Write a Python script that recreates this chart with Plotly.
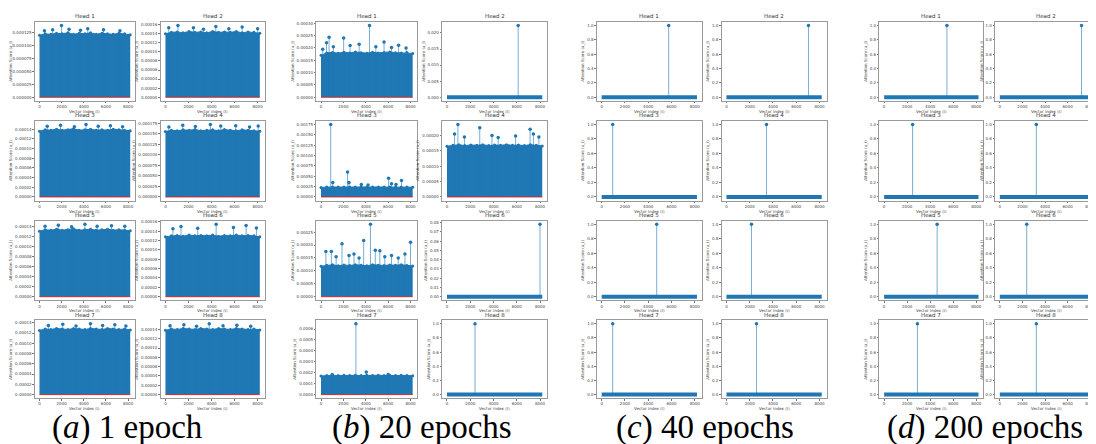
import plotly.graph_objects as go

W, H = 1096, 444
N_VEC = 8192
XTICKS = [0, 2000, 4000, 6000, 8000]
IDX = [0, 512, 1024, 1536, 2048, 2560, 3072, 3584, 4096, 4608, 5120, 5632, 6144, 6656, 7168, 7680, 8191]

CAPTIONS = ["(<i>a</i>) 1 epoch", "(<i>b</i>) 20 epochs", "(<i>c</i>) 40 epochs", "(<i>d</i>) 200 epochs"]
HEADS = ["Head 1", "Head 2", "Head 3", "Head 4", "Head 5", "Head 6", "Head 7", "Head 8"]
XLABEL = "Vector index (i)"
YLABEL = "Attention Score (a_i)"

# ---------------- (a) 1 epoch : dense bands ----------------
a1_top = [1.20e-4, 1.23e-4, 1.22e-4, 1.24e-4, 1.23e-4, 1.25e-4, 1.22e-4, 1.24e-4, 1.23e-4, 1.25e-4, 1.22e-4, 1.24e-4, 1.23e-4, 1.22e-4, 1.24e-4, 1.23e-4, 1.21e-4]
a1_px = [444, 1185, 1985, 2667, 3700, 4356, 5780, 7260]
a1_py = [1.29e-4, 1.31e-4, 1.39e-4, 1.32e-4, 1.30e-4, 1.33e-4, 1.31e-4, 1.29e-4]

a2_top = [1.40e-4, 1.43e-4, 1.44e-4, 1.42e-4, 1.45e-4, 1.43e-4, 1.44e-4, 1.42e-4, 1.45e-4, 1.43e-4, 1.44e-4, 1.43e-4, 1.45e-4, 1.42e-4, 1.44e-4, 1.43e-4, 1.41e-4]
a2_px = [286, 1086, 2428, 3300, 4371, 5500, 6657, 8000]
a2_py = [1.53e-4, 1.58e-4, 1.53e-4, 1.50e-4, 1.56e-4, 1.51e-4, 1.55e-4, 1.51e-4]

a3_top = [1.36e-4, 1.39e-4, 1.38e-4, 1.40e-4, 1.38e-4, 1.39e-4, 1.41e-4, 1.38e-4, 1.39e-4, 1.40e-4, 1.38e-4, 1.39e-4, 1.38e-4, 1.40e-4, 1.39e-4, 1.38e-4, 1.37e-4]
a3_px = [700, 1900, 3150, 4200, 5300, 6400, 7500]
a3_py = [1.46e-4, 1.48e-4, 1.45e-4, 1.50e-4, 1.46e-4, 1.47e-4, 1.45e-4]

a4_top = [1.55e-4, 1.58e-4, 1.57e-4, 1.59e-4, 1.58e-4, 1.60e-4, 1.57e-4, 1.58e-4, 1.59e-4, 1.57e-4, 1.60e-4, 1.58e-4, 1.57e-4, 1.59e-4, 1.58e-4, 1.57e-4, 1.56e-4]
a4_px = [300, 1500, 2600, 3900, 4800, 6100, 7300, 8050]
a4_py = [1.66e-4, 1.70e-4, 1.67e-4, 1.72e-4, 1.68e-4, 1.69e-4, 1.66e-4, 1.68e-4]

a5_top = [1.30e-4, 1.33e-4, 1.32e-4, 1.34e-4, 1.32e-4, 1.33e-4, 1.35e-4, 1.32e-4, 1.33e-4, 1.34e-4, 1.32e-4, 1.33e-4, 1.34e-4, 1.32e-4, 1.33e-4, 1.32e-4, 1.31e-4]
a5_px = [500, 1700, 2900, 4100, 5200, 6500, 7700]
a5_py = [1.40e-4, 1.42e-4, 1.39e-4, 1.44e-4, 1.40e-4, 1.41e-4, 1.40e-4]

a6_top = [1.28e-4, 1.30e-4, 1.31e-4, 1.29e-4, 1.32e-4, 1.30e-4, 1.31e-4, 1.30e-4, 1.32e-4, 1.29e-4, 1.31e-4, 1.30e-4, 1.32e-4, 1.30e-4, 1.31e-4, 1.30e-4, 1.28e-4]
a6_px = [650, 1350, 2800, 4400, 5900, 7000, 7900]
a6_py = [1.45e-4, 1.50e-4, 1.46e-4, 1.55e-4, 1.48e-4, 1.52e-4, 1.47e-4]

a7_top = [1.25e-4, 1.28e-4, 1.27e-4, 1.29e-4, 1.28e-4, 1.27e-4, 1.29e-4, 1.28e-4, 1.27e-4, 1.29e-4, 1.28e-4, 1.27e-4, 1.29e-4, 1.28e-4, 1.27e-4, 1.28e-4, 1.26e-4]
a7_px = [800, 2100, 3300, 4600, 5700, 6800, 7800]
a7_py = [1.35e-4, 1.37e-4, 1.34e-4, 1.38e-4, 1.35e-4, 1.36e-4, 1.34e-4]

a8_top = [1.38e-4, 1.41e-4, 1.40e-4, 1.42e-4, 1.41e-4, 1.40e-4, 1.42e-4, 1.41e-4, 1.40e-4, 1.42e-4, 1.41e-4, 1.40e-4, 1.42e-4, 1.41e-4, 1.40e-4, 1.41e-4, 1.39e-4]
a8_px = [400, 1600, 2700, 3800, 5000, 6200, 7400]
a8_py = [1.48e-4, 1.50e-4, 1.47e-4, 1.52e-4, 1.48e-4, 1.49e-4, 1.47e-4]

# ---------------- (b) 20 epochs ----------------
b1_top = [1.70e-4, 1.80e-4, 1.82e-4, 1.79e-4, 1.83e-4, 1.80e-4, 1.84e-4, 1.81e-4, 1.79e-4, 1.83e-4, 1.80e-4, 1.82e-4, 1.84e-4, 1.81e-4, 1.80e-4, 1.82e-4, 1.78e-4]
b1_px = [150, 491, 722, 1100, 2022, 2600, 3408, 4332, 4900, 5632, 6300, 6931, 7600]
b1_py = [1.95e-4, 2.21e-4, 2.43e-4, 2.05e-4, 2.40e-4, 2.10e-4, 2.15e-4, 2.91e-4, 2.05e-4, 2.24e-4, 2.02e-4, 2.11e-4, 2.00e-4]

b2_px = [6120]
b2_py = [0.0223]

b3_top = [2.30e-4, 2.40e-4, 2.42e-4, 2.38e-4, 2.41e-4, 2.39e-4, 2.42e-4, 2.40e-4, 2.38e-4, 2.41e-4, 2.40e-4, 2.42e-4, 2.39e-4, 2.41e-4, 2.40e-4, 2.39e-4, 2.36e-4]
b3_px = [866, 1050, 2370, 2500, 3600, 4200, 6036, 6300, 6700, 7190]
b3_py = [1.75e-3, 3.5e-4, 6.0e-4, 3.5e-4, 3.0e-4, 2.9e-4, 4.5e-4, 3.2e-4, 3.0e-4, 3.95e-4]

b4_top = [1.65e-4, 1.68e-4, 1.70e-4, 1.67e-4, 1.69e-4, 1.68e-4, 1.70e-4, 1.67e-4, 1.69e-4, 1.68e-4, 1.70e-4, 1.68e-4, 1.69e-4, 1.67e-4, 1.70e-4, 1.68e-4, 1.66e-4]
b4_px = [650, 940, 1500, 2818, 3870, 4400, 5900, 7146, 7430, 7900]
b4_py = [2.05e-4, 2.36e-4, 1.95e-4, 2.25e-4, 2.00e-4, 1.93e-4, 1.98e-4, 2.20e-4, 2.05e-4, 1.95e-4]

b5_top = [1.18e-4, 1.22e-4, 1.24e-4, 1.20e-4, 1.23e-4, 1.21e-4, 1.24e-4, 1.22e-4, 1.20e-4, 1.24e-4, 1.22e-4, 1.21e-4, 1.23e-4, 1.22e-4, 1.24e-4, 1.21e-4, 1.19e-4]
b5_px = [433, 924, 1350, 1877, 2500, 2946, 3400, 3812, 4418, 4852, 5256, 5700, 6300, 6900, 7500, 8000]
b5_py = [1.75e-4, 1.75e-4, 1.55e-4, 2.05e-4, 1.60e-4, 1.65e-4, 1.50e-4, 2.18e-4, 2.81e-4, 1.80e-4, 1.78e-4, 1.55e-4, 1.60e-4, 1.50e-4, 1.65e-4, 2.11e-4]

b6_px = [8000]
b6_py = [0.0783]

b7_top = [1.70e-4, 1.75e-4, 1.77e-4, 1.74e-4, 1.76e-4, 1.75e-4, 1.77e-4, 1.74e-4, 1.76e-4, 1.75e-4, 1.77e-4, 1.75e-4, 1.76e-4, 1.74e-4, 1.77e-4, 1.75e-4, 1.72e-4]
b7_px = [1000, 3119, 4043, 6000]
b7_py = [1.85e-4, 6.48e-4, 2.07e-4, 1.85e-4]

b8_px = [2410]
b8_py = [1.0]

# ---------------- (c) 40 epochs / (d) 200 epochs : one spike each ----------------
c_spike_idx = [5760, 7050, 946, 3440, 4730, 2150, 946, 2580]
c_spike_val = [1.0, 1.0, 1.0, 1.0, 1.0, 1.0, 1.0, 1.0]
d_spike_idx = [5450, 7230, 2470, 3230, 4600, 2380, 2890, 3230]
d_spike_val = [1.0, 1.0, 1.0, 1.0, 1.0, 1.0, 1.0, 1.0]

# tick steps / formats per subplot
a_dtick = [2.5e-5, 2e-5, 2e-5, 2.5e-5, 2e-5, 2e-5, 2e-5, 2e-5]
a_fmt = [".6f", ".5f", ".5f", ".6f", ".5f", ".5f", ".5f", ".5f"]
b_dtick = [5e-5, 0.005, 2.5e-4, 5e-5, 5e-5, 0.01, 1e-4, 0.2]
b_fmt = [".5f", ".3f", ".5f", ".5f", ".5f", ".2f", ".4f", ".1f"]

# ---------------- build spec table ----------------
def dense(top, px, py, dt, fmt):
    return dict(kind="dense", top=top, px=px, py=py, dtick=dt, fmt=fmt)

def spike(px, py, dt, fmt):
    return dict(kind="spike", top=None, px=px, py=py, dtick=dt, fmt=fmt)

panels = [
    [dense(a1_top, a1_px, a1_py, a_dtick[0], a_fmt[0]), dense(a2_top, a2_px, a2_py, a_dtick[1], a_fmt[1]),
     dense(a3_top, a3_px, a3_py, a_dtick[2], a_fmt[2]), dense(a4_top, a4_px, a4_py, a_dtick[3], a_fmt[3]),
     dense(a5_top, a5_px, a5_py, a_dtick[4], a_fmt[4]), dense(a6_top, a6_px, a6_py, a_dtick[5], a_fmt[5]),
     dense(a7_top, a7_px, a7_py, a_dtick[6], a_fmt[6]), dense(a8_top, a8_px, a8_py, a_dtick[7], a_fmt[7])],
    [dense(b1_top, b1_px, b1_py, b_dtick[0], b_fmt[0]), spike(b2_px, b2_py, b_dtick[1], b_fmt[1]),
     dense(b3_top, b3_px, b3_py, b_dtick[2], b_fmt[2]), dense(b4_top, b4_px, b4_py, b_dtick[3], b_fmt[3]),
     dense(b5_top, b5_px, b5_py, b_dtick[4], b_fmt[4]), spike(b6_px, b6_py, b_dtick[5], b_fmt[5]),
     dense(b7_top, b7_px, b7_py, b_dtick[6], b_fmt[6]), spike(b8_px, b8_py, b_dtick[7], b_fmt[7])],
    [spike([c_spike_idx[i]], [c_spike_val[i]], 0.2, ".1f") for i in range(8)],
    [spike([d_spike_idx[i]], [d_spike_val[i]], 0.2, ".1f") for i in range(8)],
]

# ---------------- geometry / style ----------------
col_px = [(25, 125), (151, 255), (307, 408), (433, 538), (588, 693), (713, 818), (871, 975), (987, 1089)]
row_px = [(13, 92), (112, 192), (212, 292), (312, 390)]
cap_cx = [118, 413, 696, 977]
cap_y = 419

BLUE = "#1f77b4"
STEM = "rgba(31,119,180,0.6)"
RED = "#d62728"
FONT = "DejaVu Sans"
TICK_FS = 4
LAB_FS = 4
TITLE_FS = 5.5

fig = go.Figure()
layout = dict(width=W, height=H, margin=dict(l=0, r=0, t=0, b=0),
              paper_bgcolor="white", plot_bgcolor="white", showlegend=False,
              font=dict(family=FONT, color="#333"))
annotations = []

n = 0
for p, panel in enumerate(panels):
    for h, spec in enumerate(panel):
        n += 1
        r, c = h // 2, p * 2 + h % 2
        xref = "x" if n == 1 else f"x{n}"
        yref = "y" if n == 1 else f"y{n}"
        xa = "xaxis" if n == 1 else f"xaxis{n}"
        ya = "yaxis" if n == 1 else f"yaxis{n}"
        l, rr = col_px[c]
        t, b = row_px[r]

        vals = list(spec["py"]) + (list(spec["top"]) if spec["top"] else [])
        M = max(vals)

        if spec["kind"] == "dense":
            fig.add_trace(go.Scatter(x=IDX, y=spec["top"], mode="lines", fill="tozeroy",
                                     fillcolor=BLUE, line=dict(color=BLUE, width=1),
                                     xaxis=xref, yaxis=yref, hoverinfo="skip"))
            fig.add_trace(go.Scatter(x=IDX, y=spec["top"], mode="markers",
                                     marker=dict(color=BLUE, size=3),
                                     xaxis=xref, yaxis=yref, hoverinfo="skip"))
            fig.add_trace(go.Scatter(x=[0, N_VEC - 1], y=[0, 0], mode="lines",
                                     line=dict(color=RED, width=1),
                                     xaxis=xref, yaxis=yref, hoverinfo="skip"))
        else:
            fig.add_trace(go.Scatter(x=[0, N_VEC - 1], y=[0, 0], mode="lines",
                                     line=dict(color=BLUE, width=4),
                                     xaxis=xref, yaxis=yref, hoverinfo="skip"))

        sx, sy = [], []
        for xv, yv in zip(spec["px"], spec["py"]):
            sx += [xv, xv, None]
            sy += [0, yv, None]
        fig.add_trace(go.Scatter(x=sx, y=sy, mode="lines", line=dict(color=STEM, width=1),
                                 xaxis=xref, yaxis=yref, hoverinfo="skip"))
        fig.add_trace(go.Scatter(x=spec["px"], y=spec["py"], mode="markers",
                                 marker=dict(color=BLUE, size=3.5),
                                 xaxis=xref, yaxis=yref, hoverinfo="skip"))

        common = dict(showline=True, mirror=True, linecolor="#9a9a9a", linewidth=1,
                      showgrid=False, zeroline=False, ticks="outside", ticklen=1.5,
                      tickwidth=0.6, tickcolor="#777",
                      tickfont=dict(size=TICK_FS, family=FONT, color="#444"))
        layout[xa] = dict(common, domain=[l / W, rr / W], anchor=yref,
                          range=[-0.05 * (N_VEC - 1), 1.05 * (N_VEC - 1)], tickvals=XTICKS)
        layout[ya] = dict(common, domain=[1 - b / H, 1 - t / H], anchor=xref,
                          range=[-0.05 * M, 1.05 * M], tick0=0, dtick=spec["dtick"], tickformat=spec["fmt"],
                          title=dict(text=YLABEL, font=dict(size=LAB_FS, family=FONT, color="#444"), standoff=2))
        annotations.append(dict(text=HEADS[h], xref="paper", yref="paper",
                                x=(l + rr) / 2 / W, y=1 - (t - 0.5) / H, xanchor="center", yanchor="bottom",
                                showarrow=False, font=dict(size=TITLE_FS, family=FONT, color="#333")))
        annotations.append(dict(text=XLABEL, xref="paper", yref="paper",
                                x=(l + rr) / 2 / W, y=1 - (b + 10.5) / H, xanchor="center", yanchor="middle",
                                showarrow=False, font=dict(size=LAB_FS, family=FONT, color="#444")))

for p in range(4):
    annotations.append(dict(text=CAPTIONS[p], xref="paper", yref="paper",
                            x=cap_cx[p] / W, y=1 - cap_y / H, xanchor="center", yanchor="middle",
                            showarrow=False, font=dict(size=33, family="Liberation Serif", color="black")))

layout["annotations"] = annotations
fig.update_layout(**layout)
fig.write_html("out.html")
